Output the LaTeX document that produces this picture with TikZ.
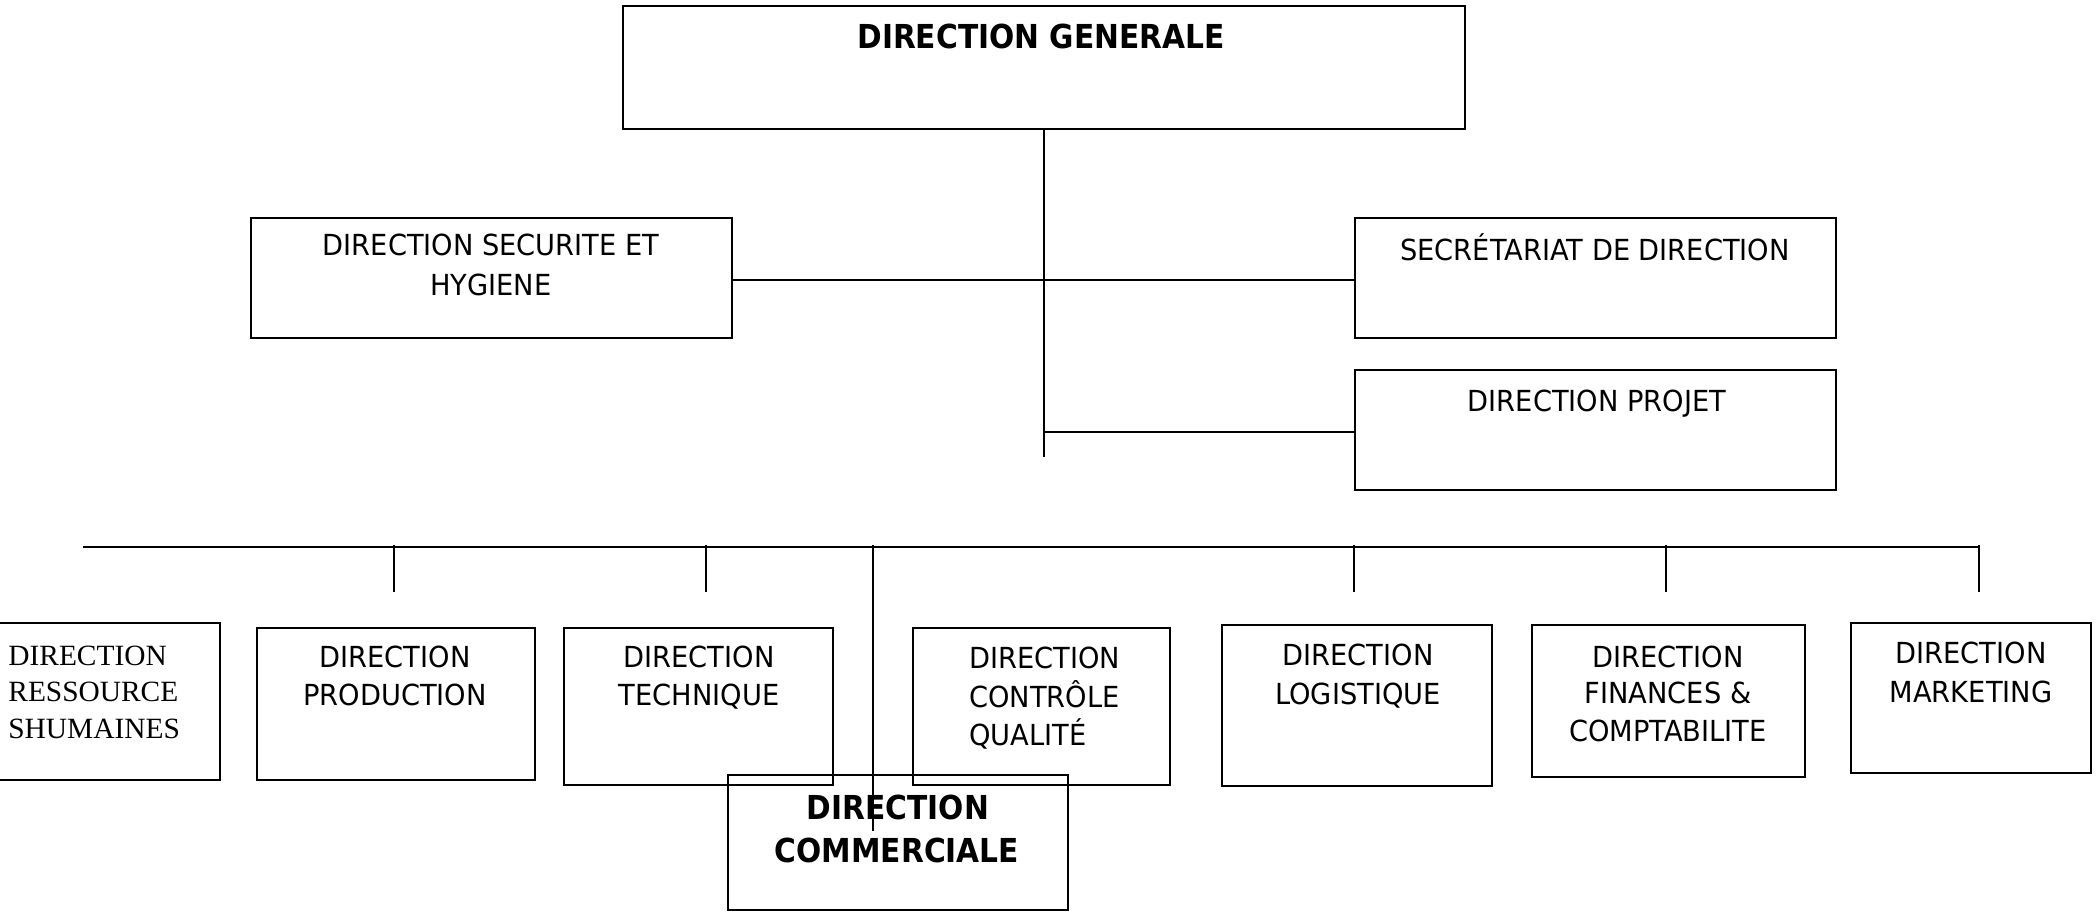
\documentclass[tikz,border=0pt]{standalone}
\usepackage{fontspec}
\setmainfont{DejaVu Sans}[FakeStretch=0.94]
\newfontfamily\headfont{DejaVu Sans}[FakeStretch=0.9]
\newfontfamily\rhfont{Liberation Serif}
\usetikzlibrary{fit}
\tikzset{
  unit box/.style={draw, line width=0.7pt, inner sep=0pt},
  heavy box/.style={draw, line width=1.05pt, inner sep=0pt},
  link/.style={line width=0.7pt},
  lbl/.style={anchor=base, inner sep=0pt, font=\fontsize{14.5pt}{19pt}\selectfont},
  lbl left/.style={lbl, anchor=base west},
  lbl bold/.style={anchor=base, inner sep=0pt, font=\headfont\fontsize{16.5pt}{21.5pt}\selectfont\bfseries},
  lbl serif/.style={anchor=base west, inner sep=0pt, font=\rhfont\fontsize{14.7pt}{18pt}\selectfont},
}
\begin{document}
\begin{tikzpicture}[x=0.5pt, y=-0.5pt]
\useasboundingbox (0,0) rectangle (2097,911);

% upper level
\node[unit box, fit={(623,6) (1465,129)}] (dg) {};
\node[unit box, fit={(251,218) (732,338)}] (dsh) {};
\node[unit box, fit={(1355,218) (1836,338)}] (sd) {};
\node[unit box, fit={(1355,370) (1836,490)}] (dp) {};

% lower level
\node[unit box, fit={(-2,623) (220,780)}] (rh) {};
\node[unit box, fit={(257,628) (535,780)}] (prod) {};
\node[unit box, fit={(564,628) (833,785)}] (tech) {};
\node[unit box, fit={(913,628) (1170,785)}] (cq) {};
\node[unit box, fit={(1222,625) (1492,786)}] (log) {};
\node[unit box, fit={(1532,625) (1805,777)}] (fin) {};
\node[unit box, fit={(1851,623) (2091,773)}] (mkt) {};
\node[heavy box, fit={(728,775) (1068,910)}] (comm) {};

% labels
\node[lbl bold] (dg-t) at (1041,48) {DIRECTION GENERALE};
\node[lbl] (dsh-t1) at (491,255) {DIRECTION SECURITE ET};
\node[lbl] (dsh-t2) at (491,295) {HYGIENE};
\node[lbl] (sd-t) at (1595,260) {SECRÉTARIAT DE DIRECTION};
\node[lbl] (dp-t) at (1597,411) {DIRECTION PROJET};

\node[lbl serif] (rh-t1) at (8,665) {DIRECTION};
\node[lbl serif] (rh-t2) at (8,701) {RESSOURCE};
\node[lbl serif] (rh-t3) at (8,738) {SHUMAINES};
\node[lbl] (prod-t1) at (395,667) {DIRECTION};
\node[lbl] (prod-t2) at (395,705) {PRODUCTION};
\node[lbl] (tech-t1) at (699,667) {DIRECTION};
\node[lbl] (tech-t2) at (699,705) {TECHNIQUE};
\node[lbl left] (cq-t1) at (969,668) {DIRECTION};
\node[lbl left] (cq-t2) at (969,707) {CONTRÔLE};
\node[lbl left] (cq-t3) at (969,745) {QUALITÉ};
\node[lbl] (log-t1) at (1358,665) {DIRECTION};
\node[lbl] (log-t2) at (1358,704) {LOGISTIQUE};
\node[lbl] (fin-t1) at (1668,667) {DIRECTION};
\node[lbl] (fin-t2) at (1668,703) {FINANCES \&};
\node[lbl] (fin-t3) at (1668,741) {COMPTABILITE};
\node[lbl] (mkt-t1) at (1971,663) {DIRECTION};
\node[lbl] (mkt-t2) at (1971,702) {MARKETING};
\node[lbl bold] (comm-t1) at (898,819) {DIRECTION};
\node[lbl bold] (comm-t2) at (897,862) {COMMERCIALE};

% trunk below the general direction
\coordinate (trunk-end) at (1043,457);
\draw[link] (dg.south) -- (dg.south |- trunk-end);
\draw[link] ([yshift=-1pt]dsh.east) -- ([yshift=-1pt]dsh.east -| sd.west);
\draw[link] ([yshift=-1pt]dp.west) -- ([yshift=-1pt]dp.west -| dg.south);

% bus of the operational directions
\coordinate (bus-l) at (83,547);
\coordinate (bus-r) at (1979,547);
\draw[link] (bus-l) -- (bus-r);
\foreach \n/\x in {t1/394, t2/706, t3/1354, t4/1666, t5/1979}{
  \coordinate (\n) at (\x,592);
  \draw[link] (\n |- 0,545) -- (\n);
}
\coordinate (c-top) at (873,545);
\coordinate (c-end) at (873,831);
\draw[link] (c-top) -- (c-end);
\end{tikzpicture}
\end{document}
